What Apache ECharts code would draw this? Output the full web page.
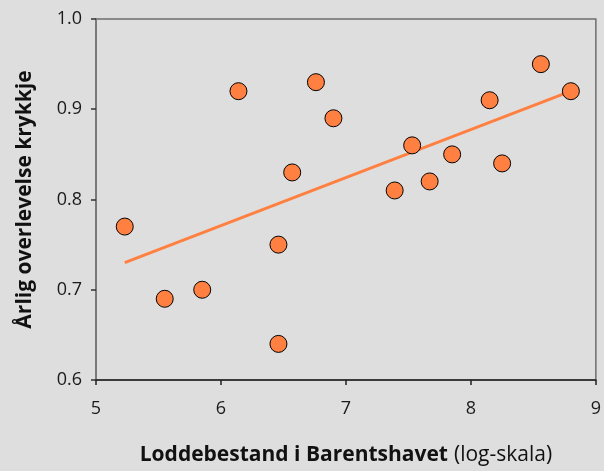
<!DOCTYPE html>
<html>
<head>
<meta charset="utf-8">
<script src="https://cdn.jsdelivr.net/npm/echarts@6/dist/echarts.min.js"></script>
<style>
html,body{margin:0;padding:0;background:#dedede;}
#chart{width:604px;height:471px;}
</style>
</head>
<body>
<div id="chart"></div>
<script>
// Data
const loddeLog = [5.23, 5.55, 5.85, 6.14, 6.46, 6.46, 6.57, 6.76, 6.90, 7.39, 7.53, 7.67, 7.85, 8.15, 8.25, 8.56, 8.80];
const overlevelse = [0.77, 0.69, 0.70, 0.92, 0.75, 0.64, 0.83, 0.93, 0.89, 0.81, 0.86, 0.82, 0.85, 0.91, 0.84, 0.95, 0.92];
const trendX = [5.23, 8.80];
const trendY = [0.73, 0.92];
const xAxisTitle = 'Loddebestand i Barentshavet';
const xAxisUnit = '(log-skala)';
const yAxisTitle = 'Årlig overlevelse krykkje';

const points = loddeLog.map((x, i) => [x, overlevelse[i]]);
const trend = trendX.map((x, i) => [x, trendY[i]]);

const chart = echarts.init(document.getElementById('chart'), null, {renderer: 'canvas'});
const font = '"Open Sans", "Noto Sans", sans-serif';
chart.setOption({
  backgroundColor: '#dedede',
  animation: false,
  grid: {
    left: 96, right: 6, top: 19, bottom: 89.5,
    show: true, borderColor: '#6e6e6e', borderWidth: 1.5, backgroundColor: 'transparent'
  },
  xAxis: {
    type: 'value', min: 5, max: 9, interval: 1,
    splitLine: {show: false},
    axisLine: {onZero: false, lineStyle: {color: '#222', width: 1.5}},
    axisTick: {show: true, inside: false, length: 5, lineStyle: {color: '#222', width: 1.5}},
    axisLabel: {color: '#1a1a1a', fontFamily: font, fontSize: 18, margin: 20},
    name: '{b|' + xAxisTitle + '}{s| }{n|' + xAxisUnit + '}',
    nameLocation: 'middle', nameGap: 65,
    nameTextStyle: {
      rich: {
        b: {fontFamily: font, fontSize: 21, fontWeight: 'bold', color: '#111'},
        s: {fontFamily: font, fontSize: 21, width: 6, color: '#111'},
        n: {fontFamily: font, fontSize: 21, fontWeight: 'normal', color: '#111'}
      }
    }
  },
  yAxis: {
    type: 'value', min: 0.6, max: 1.0, interval: 0.1,
    splitLine: {show: false},
    axisLine: {onZero: false, lineStyle: {color: '#7a7a7a', width: 2}},
    axisTick: {show: true, inside: false, length: 5, lineStyle: {color: '#333', width: 1.5}},
    axisLabel: {color: '#1a1a1a', fontFamily: font, fontSize: 18, margin: 14,
      formatter: v => v.toFixed(1)},
    name: yAxisTitle,
    nameLocation: 'middle', nameGap: 60,
    nameTextStyle: {fontFamily: font, fontSize: 21, fontWeight: 'bold', color: '#111'}
  },
  series: [
    {
      type: 'line', data: trend, symbol: 'none', silent: true,
      lineStyle: {color: '#ff8040', width: 3}, z: 2
    },
    {
      type: 'scatter', data: points, symbol: 'circle', symbolSize: 17,
      itemStyle: {color: '#ff8040', borderColor: '#000', borderWidth: 1, opacity: 1}, z: 3
    }
  ]
});
</script>
</body>
</html>
